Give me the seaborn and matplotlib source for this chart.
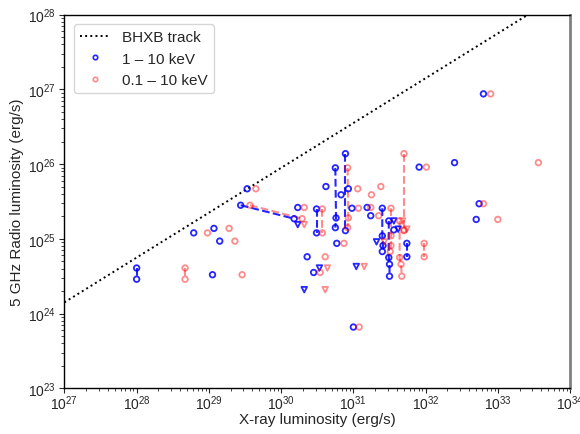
import numpy as np
import pandas as pd
import matplotlib
matplotlib.use("Agg")
import matplotlib.pyplot as plt
from matplotlib.lines import Line2D
import seaborn as sns

# ── Data (log10 values) ───────────────────────────────────────────────────────
# one entry per observation; src groups repeated observations of one source
src = [1, 1, 2, 3, 4, 5, 6, 7, 7, 8, 9, 10, 10, 11, 12, 13, 14, 15,
       16, 16, 16, 17, 17, 18, 19, 20, 21, 22, 23, 24, 25,
       26, 26, 26, 26, 27, 27, 27, 27, 28, 28, 29, 30, 31, 32, 33,
       34, 35, 36, 37]
lx_hard = [28.00, 28.00, 29.05, 28.79, 29.07, 29.15, 29.53, 29.44, 30.18,
           30.23, 30.23, 30.49, 30.49, 30.36, 30.45, 30.53, 30.32, 30.62,
           30.75, 30.76, 30.75, 30.89, 30.89, 30.93, 30.83, 30.98, 30.77,
           31.04, 31.00, 31.19, 31.24,
           31.40, 31.40, 31.41, 31.40, 31.49, 31.49, 31.50, 31.50,
           31.74, 31.74, 31.91, 32.40, 32.80, 32.74, 32.70,
           31.32, 31.56, 31.56, 31.62]
lx_soft = [28.67, 28.67, 29.46, 28.98, 29.28, 29.36, 29.65, 29.57, 30.29,
           30.32, 30.32, 30.57, 30.57, 30.61, 30.54, 30.64, 30.61, 31.38,
           30.92, 30.93, 30.92, 31.70, 31.70, 31.06, 31.25, 31.07, 30.87,
           31.15, 31.08, 31.24, 31.35,
           31.52, 31.52, 31.52, 31.51, 31.64, 31.64, 31.66, 31.67,
           31.98, 31.98, 32.01, 33.56, 32.90, 32.80, 33.00,
           31.43, 31.68, 31.70, 31.74]
lr = [24.61, 24.46, 24.52, 25.08, 25.14, 24.97, 25.67, 25.45, 25.27,
      25.42, 25.19, 25.40, 25.08, 24.76, 24.55, 24.61, 24.32, 25.70,
      25.95, 25.28, 25.15, 26.14, 25.11, 25.67, 25.59, 25.41, 24.94,
      24.63, 23.82, 25.42, 25.31,
      25.41, 25.04, 24.91, 24.83, 25.24, 24.75, 24.66, 24.50,
      24.94, 24.76, 25.96, 26.02, 26.94, 25.47, 25.26,
      24.96, 25.24, 25.12, 25.13]
upper = [0, 0, 0, 0, 0, 0, 0, 0, 0, 0, 1, 0, 0, 0, 0, 1, 1, 0,
         0, 0, 0, 0, 0, 0, 0, 0, 0, 1, 0, 0, 0,
         0, 0, 0, 0, 0, 0, 0, 0, 0, 0, 0, 0, 0, 0, 0,
         1, 1, 0, 1]

# BHXB track end points (log10)
track_lx = [27.0, 34.0]
track_lr = [24.15, 28.35]

bands = ["1 – 10 keV", "0.1 – 10 keV"]
band_color = {"1 – 10 keV": (0.0, 0.0, 1.0, 0.85),
              "0.1 – 10 keV": (1.0, 0.0, 0.0, 0.45)}

rows = []
for b, lx in zip(bands, [lx_hard, lx_soft]):
    for s, x, y, u in zip(src, lx, lr, upper):
        rows.append({"src": s, "band": b, "Lx": 10 ** x, "LR": 10 ** y, "ul": u})
df = pd.DataFrame(rows)
track = pd.DataFrame({"Lx": 10 ** np.array(track_lx), "LR": 10 ** np.array(track_lr)})

# ── Style ─────────────────────────────────────────────────────────────────────
sns.set_style("ticks")
plt.rcParams["font.family"] = ["Liberation Sans", "DejaVu Sans"]
plt.rcParams["mathtext.fontset"] = "cm"
plt.rcParams["font.size"] = 11

fig, ax = plt.subplots(figsize=(5.8, 4.35), dpi=100)
fig.subplots_adjust(left=0.111, right=0.983, bottom=0.105, top=0.964)

sns.lineplot(data=track, x="Lx", y="LR", ax=ax, color="black",
             linestyle=":", linewidth=1.4, sort=False)

for b in bands:
    sub = df[df["band"] == b]
    sns.lineplot(data=sub, x="Lx", y="LR", units="src", estimator=None,
                 sort=False, ax=ax, color=band_color[b],
                 linestyle="--", linewidth=1.5)
    for u, mk in [(0, "o"), (1, "v")]:
        pts = sub[sub["ul"] == u]
        sns.scatterplot(data=pts, x="Lx", y="LR", ax=ax, marker=mk, s=16,
                        facecolor="none", edgecolor=band_color[b],
                        linewidth=1.3, zorder=3, legend=False)

ax.set_xscale("log")
ax.set_yscale("log")
ax.set_xlim(1e27, 1e34)
ax.set_ylim(1e23, 1e28)
ax.set_xlabel("X-ray luminosity (erg/s)", fontsize=11, labelpad=0)
ax.set_ylabel("5 GHz Radio luminosity (erg/s)", fontsize=11, labelpad=3)
ax.tick_params(axis="both", which="major", labelsize=10, direction="out",
               length=3.5)
ax.tick_params(axis="x", which="major", pad=0)
ax.tick_params(axis="y", which="major", pad=2.5)
ax.tick_params(axis="both", which="minor", direction="out", length=2)

for side in ["top", "left", "bottom"]:
    ax.spines[side].set_color("black")
    ax.spines[side].set_linewidth(1.0)
ax.spines["right"].set_color("0.5")
ax.spines["right"].set_linewidth(2.0)

handles = [
    Line2D([], [], color="black", linestyle=":", linewidth=1.4, label="BHXB track"),
    Line2D([], [], linestyle="none", marker="o", markersize=3.2, mew=1.2,
           mfc="none", mec=band_color[bands[0]], label=bands[0]),
    Line2D([], [], linestyle="none", marker="o", markersize=3.2, mew=1.2,
           mfc="none", mec=band_color[bands[1]], label=bands[1]),
]
ax.legend(handles=handles, loc="upper left", fontsize=11, frameon=True,
          borderaxespad=0.6)

fig.savefig("out.png", dpi=100)
